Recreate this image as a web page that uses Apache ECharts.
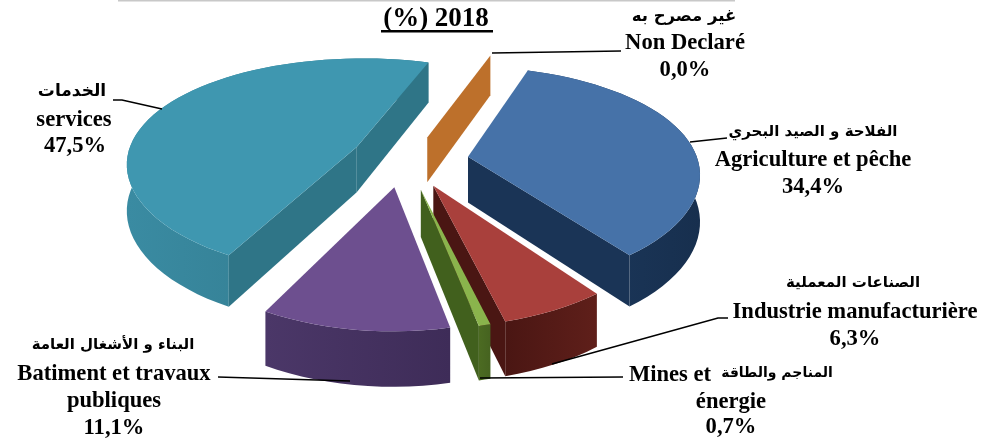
<!DOCTYPE html>
<html>
<head>
<meta charset="utf-8">
<style>
html, body { margin: 0; padding: 0; background: #fff; }
#main { width: 985px; height: 441px; }
</style>
<script src="https://cdn.jsdelivr.net/npm/echarts@6/dist/echarts.min.js"></script>
</head>
<body>
<div id="main"></div>
<script>
const sectors = ['Agriculture et pêche', 'Industrie manufacturière', 'Mines et énergie', 'Batiment et travaux publiques', 'services', 'Non Declaré']
const shares = [34.4, 6.3, 0.7, 11.1, 47.5, 0.0]
const shareLabels = ['34,4%', '6,3%', '0,7%', '11,1%', '47,5%', '0,0%']

// pie layout: tilted disc seen in perspective, slices pulled out from the middle
const startAngle = 19
const centerX = 412
const centerY = 163
const radius = 230
const tilt = 0.47
const camera = 1700
const thickness = 46
const explode = [57, 52, 42, 60, 60, 48]
const nudgeX = [0, -2, -1, -9, -1, 0]
const nudgeY = [-2, 0, 7, -5, -5, -5]
const drawOrder = [4, 5, 0, 1, 2, 3]

const topColors = ['#4672a8', '#a9403c', '#8ab44c', '#6d4f8f', '#3f97b0', '#bd702b']
const wallColors = [['#1d3b60', '#172f4e'], ['#4a1613', '#5f1f1a'], ['#4c6b22', '#466320'], ['#4b3768', '#3e2c58'], ['#3a8ba2', '#2f7587'], ['#bd702b', '#bd702b']]
const innerColors = ['#1a3456', '#4a1613', '#41601d', '#42305f', '#2f7587', '#bd702b']

const font = '"Liberation Serif", "DejaVu Serif", serif'
const arabicFont = '"DejaVu Sans", "Noto Sans", sans-serif'

function project(index, x, y, h) {
    const s = camera / (camera - y)
    return [
        centerX + nudgeX[index] + x * s,
        centerY + nudgeY[index] + y * tilt * Math.pow(s, 1.3) + h * thickness * s
    ]
}

function slicePolys(index, from, to) {
    const mid = (from + to) / 2 * Math.PI / 180
    const ox = explode[index] * Math.sin(mid)
    const oy = -explode[index] * Math.cos(mid)
    const top = [], bottom = []
    const steps = Math.max(2, Math.ceil((to - from) / 3))
    for (let i = 0; i <= steps; i++) {
        const a = (from + (to - from) * i / steps) * Math.PI / 180
        const x = ox + radius * Math.sin(a)
        const y = oy - radius * Math.cos(a)
        top.push(project(index, x, y, 0))
        bottom.push(project(index, x, y, 1))
    }
    const apex = project(index, ox, oy, 0)
    const apexLow = project(index, ox, oy, 1)
    return {
        outer: top.concat(bottom.slice().reverse()),
        wallA: [apex, top[0], bottom[0], apexLow],
        wallB: [apex, top[top.length - 1], bottom[bottom.length - 1], apexLow],
        face: [apex].concat(top)
    }
}

function renderSlice(params, api) {
    const index = api.value(0)
    let before = 0
    for (let i = 0; i < index; i++) before += shares[i]
    const from = startAngle + before * 3.6
    const to = from + api.value(1) * 3.6
    const polys = slicePolys(index, from, to)
    const wall = new echarts.graphic.LinearGradient(0, 0, 1, 0, [
        { offset: 0, color: wallColors[index][0] },
        { offset: 1, color: wallColors[index][1] }
    ])
    const children = []
    if (to > from) {
        children.push({ type: 'polygon', shape: { points: polys.outer }, style: { fill: wall } })
    }
    // only the cut faces turned towards the viewer
    if (Math.sin(from * Math.PI / 180) < 0) {
        children.push({ type: 'polygon', shape: { points: polys.wallA }, style: { fill: innerColors[index] } })
    }
    if (Math.sin(to * Math.PI / 180) > 0) {
        children.push({ type: 'polygon', shape: { points: polys.wallB }, style: { fill: innerColors[index] } })
    }
    if (to > from) {
        children.push({ type: 'polygon', shape: { points: polys.face }, style: { fill: topColors[index] } })
    }
    return { type: 'group', children: children }
}

function label(text, x, y, size, family) {
    return {
        type: 'text', x: x, y: y, z: 10,
        style: {
            text: text, fill: '#000', align: 'center', verticalAlign: 'middle',
            font: 'bold ' + (size || 22.6) + 'px ' + (family || font)
        }
    }
}

function leader(points) {
    return { type: 'polyline', z: 9, shape: { points: points }, style: { stroke: '#000', lineWidth: 1.5, fill: null } }
}

const graphics = [
    label('(%) 2018', 436, 19, 27),
    { type: 'rect', shape: { x: 381, y: 30, width: 112, height: 2.5 }, style: { fill: '#000' } },
    { type: 'rect', shape: { x: 118, y: 0, width: 617, height: 1.5 }, style: { fill: '#c8c8c8' } },

    label('غير مصرح به', 684, 17, 16.5, arabicFont),
    label(sectors[5], 685, 43),
    label(shareLabels[5], 685, 70),
    leader([[492, 53], [621, 51]]),

    label('الفلاحة و الصيد البحري', 813, 132, 15, arabicFont),
    label(sectors[0], 813, 160),
    label(shareLabels[0], 813, 187),
    leader([[690, 142], [727, 138]]),

    label('الصناعات المعملية', 853, 283, 15, arabicFont),
    label(sectors[1], 855, 312),
    label(shareLabels[1], 855, 339),
    leader([[552, 364], [718, 318], [728, 318]]),

    label('Mines et', 670, 375),
    label('المناجم والطاقة', 777, 373, 14, arabicFont),
    label('énergie', 731, 402),
    label(shareLabels[2], 731, 427),
    leader([[480, 378], [623, 377]]),

    label('البناء و الأشغال العامة', 113, 345, 15, arabicFont),
    label('Batiment et travaux', 114, 374),
    label('publiques', 114, 401),
    label(shareLabels[3], 114, 428),
    leader([[218, 377], [350, 381]]),

    label('الخدمات', 72, 92, 17, arabicFont),
    label(sectors[4], 74, 120),
    label(shareLabels[4], 75, 146),
    leader([[113, 100], [122, 100], [162, 109]])
]

const chart = echarts.init(document.getElementById('main'), null, { renderer: 'canvas' })
chart.setOption({
    animation: false,
    backgroundColor: '#fff',
    graphic: graphics,
    series: [{
        type: 'custom',
        coordinateSystem: 'none',
        renderItem: renderSlice,
        encode: { value: 1 },
        data: drawOrder.map(i => [i, shares[i]])
    }]
})
</script>
</body>
</html>
